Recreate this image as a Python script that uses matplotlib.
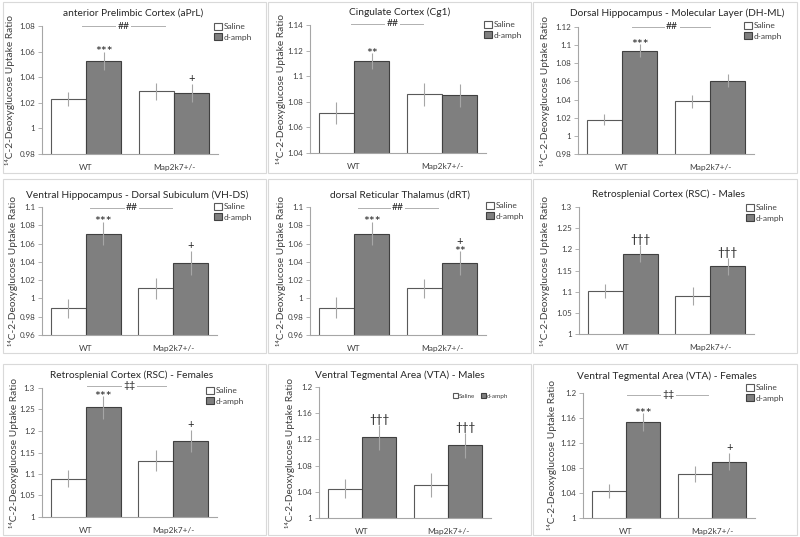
import numpy as np
import matplotlib
matplotlib.use('Agg')
import matplotlib.pyplot as plt
from matplotlib.patches import Rectangle
from matplotlib.ticker import FuncFormatter, MultipleLocator

plt.rcParams['font.family'] = ['Lato', 'DejaVu Sans']

# ---- data ----
titles = ['anterior Prelimbic Cortex (aPrL)', 'Cingulate Cortex (Cg1)',
          'Dorsal Hippocampus - Molecular Layer (DH-ML)',
          'Ventral Hippocampus - Dorsal Subiculum (VH-DS)', 'dorsal Reticular Thalamus (dRT)',
          'Retrosplenial Cortex (RSC) - Males', 'Retrosplenial Cortex (RSC) - Females',
          'Ventral Tegmental Area (VTA) - Males', 'Ventral Tegmental Area (VTA) - Females']
genotypes = ['WT', 'Map2k7+/-']
treatments = ['Saline', 'd-amph']

saline_mean = [[1.023, 1.029], [1.071, 1.086], [1.018, 1.038],
               [0.989, 1.011], [0.990, 1.011], [1.101, 1.089],
               [1.089, 1.131], [1.045, 1.050], [1.043, 1.071]]
saline_err = [[0.0055, 0.0068], [0.0085, 0.009], [0.006, 0.0068],
              [0.010, 0.0115], [0.0115, 0.0105], [0.017, 0.021],
              [0.020, 0.024], [0.015, 0.018], [0.011, 0.013]]
damph_mean = [[1.053, 1.028], [1.112, 1.085], [1.094, 1.061],
              [1.071, 1.039], [1.071, 1.039], [1.190, 1.160],
              [1.255, 1.177], [1.123, 1.111], [1.154, 1.090]]
damph_err = [[0.007, 0.007], [0.006, 0.009], [0.0075, 0.0075],
             [0.013, 0.013], [0.013, 0.013], [0.021, 0.020],
             [0.026, 0.026], [0.019, 0.019], [0.014, 0.014]]

y_min = [0.98, 1.04, 0.98, 0.96, 0.96, 1.0, 1.0, 1.0, 1.0]
y_max = [1.08, 1.14, 1.12, 1.10, 1.10, 1.3, 1.3, 1.2, 1.2]
y_step = [0.02, 0.02, 0.02, 0.02, 0.02, 0.05, 0.05, 0.04, 0.04]

wt_marks = ['***', '**', '***', '***', '***', '\u2020\u2020\u2020', '***', '\u2020\u2020\u2020', '***']
map_marks = ['+', '', '', '+', '+\n**', '\u2020\u2020\u2020', '+', '\u2020\u2020\u2020', '+']
group_marks = ['##', '##', '##', '##', '##', '', '\u2021\u2021', '', '\u2021\u2021']

# ---- layout (pixels, top-left origin) ----
W, H = 800, 537
panel_box = [(3, 2, 266, 173), (268, 2, 531, 173), (533, 2, 797, 173),
             (3, 179, 266, 353), (268, 179, 531, 353), (533, 179, 797, 353),
             (3, 364, 266, 535), (268, 364, 531, 535), (533, 364, 797, 535)]
ax_box = [(42, 26, 218, 154), (310, 25, 486, 153), (578, 27, 754, 154),
          (42, 207, 217, 335), (310, 207, 486, 335), (579, 207, 754, 334),
          (42, 388, 217, 517), (319, 387, 491, 518), (583, 393, 755, 518)]
title_pos = [(133, 13), (400, 12), (677, 13), (137, 195), (400, 195), (668, 194),
             (132, 375), (400, 375), (667, 376)]
ylabel_x = [5, 276, 540, 8, 276, 540, 9, 285, 547]
legend_pos = [(214, 23), (484, 21), (744, 22), (214, 203), (486, 202), (746, 204),
              (206, 387), (453, 393), (746, 384)]
bracket = [(-0.05, 0.90, 0.43, 1.080), (-0.03, 0.78, 0.44, 1.141), (0.11, 1.00, 0.57, 1.120),
           (0.045, 0.98, 0.53, 1.099), (0.045, 0.95, 0.50, 1.099), None,
           (0.01, 0.92, 0.50, 1.305), None, (0.01, 0.95, 0.49, 1.197)]

bar_w = 0.40
edge_c = '#595959'
grey = '#7f7f7f'
err_c = '#a6a6a6'
axis_c = '#a6a6a6'
txt_c = '#404040'
mark_c = '#262626'

fig = plt.figure(figsize=(8, 5.37), dpi=100)


def fig_rect(box):
    x0, y0, x1, y1 = box
    return [x0 / W, 1 - y1 / H, (x1 - x0) / W, (y1 - y0) / H]


def put_marks(ax, xpos, top, s):
    # stack lines bottom-up just above the error bar
    base = 0.0
    for k, line in enumerate(reversed(s.split('\n'))):
        if '*' in line:
            off, size = -3.4, 10
        elif '+' in line:
            off, size = 1.2, 8
        else:
            off, size = 1.5, 8.5
        if k > 0:
            off = base + 7.5
        ax.annotate(line, xy=(xpos, top), xytext=(0, off), textcoords='offset points',
                    ha='center', va='baseline', fontsize=size, color=mark_c)
        base = off


fmt = FuncFormatter(lambda v, p: '{:g}'.format(round(v, 2)))

for i in range(9):
    r = fig_rect(panel_box[i])
    fig.patches.append(Rectangle((r[0], r[1]), r[2], r[3], transform=fig.transFigure,
                                 facecolor='white', edgecolor='#d9d9d9', lw=0.8, zorder=-10))
    ax = fig.add_axes(fig_rect(ax_box[i]))
    x = np.arange(len(genotypes))
    ax.bar(x - bar_w / 2, saline_mean[i], bar_w, color='white', edgecolor=edge_c, lw=0.8,
           label=treatments[0], zorder=2)
    ax.bar(x + bar_w / 2, damph_mean[i], bar_w, color=grey, edgecolor='#404040', lw=0.8,
           label=treatments[1], zorder=2)
    ax.errorbar(x - bar_w / 2, saline_mean[i], yerr=saline_err[i], fmt='none',
                ecolor=err_c, elinewidth=0.8, capsize=0, zorder=3)
    ax.errorbar(x + bar_w / 2, damph_mean[i], yerr=damph_err[i], fmt='none',
                ecolor=err_c, elinewidth=0.8, capsize=0, zorder=3)

    ax.set_xlim(-0.5, 1.5)
    ax.set_ylim(y_min[i], y_max[i])
    ax.yaxis.set_major_locator(MultipleLocator(y_step[i]))
    ax.yaxis.set_major_formatter(fmt)
    ax.set_xticks(x)
    ax.set_xticklabels(genotypes)
    ax.tick_params(axis='x', length=0, labelsize=6, colors=txt_c, pad=7)
    ax.tick_params(axis='y', length=3, width=0.6, color=axis_c, labelsize=5.8,
                   labelcolor=txt_c, pad=2)
    for s in ['top', 'right']:
        ax.spines[s].set_visible(False)
    for s in ['left', 'bottom']:
        ax.spines[s].set_color(axis_c)
        ax.spines[s].set_linewidth(0.8)
    ax.set_facecolor('none')

    # significance marks
    if wt_marks[i]:
        put_marks(ax, x[0] + bar_w / 2, damph_mean[i][0] + damph_err[i][0], wt_marks[i])
    if map_marks[i]:
        put_marks(ax, x[1] + bar_w / 2, damph_mean[i][1] + damph_err[i][1], map_marks[i])
    if bracket[i] is not None:
        bx0, bx1, bxt, by = bracket[i]
        ax.plot([bx0, bx1], [by, by], color='#b0b0b0', lw=0.7, clip_on=False, zorder=4)
        ax.text(bxt, by, group_marks[i], ha='center', va='center', fontsize=7.5,
                color=mark_c, clip_on=False, zorder=5,
                bbox=dict(facecolor='white', edgecolor='none', pad=1.0))

    lx, ly = legend_pos[i]
    if i == 7:
        ax.legend(loc='upper left', bbox_to_anchor=(lx / W, 1 - ly / H),
                  bbox_transform=fig.transFigure, frameon=False, fontsize=4.5, ncol=2,
                  handlelength=0.8, handleheight=0.8, handletextpad=0.2, columnspacing=0.8,
                  borderpad=0, borderaxespad=0, labelcolor=txt_c)
    else:
        ax.legend(loc='upper left', bbox_to_anchor=(lx / W, 1 - ly / H),
                  bbox_transform=fig.transFigure, frameon=False, fontsize=6,
                  handlelength=0.9, handleheight=0.9, handletextpad=0.3, labelspacing=0.35,
                  borderpad=0, borderaxespad=0, labelcolor=txt_c)

    tx, ty = title_pos[i]
    fig.text(tx / W, 1 - ty / H, titles[i], ha='center', va='center', fontsize=7.3,
             color=mark_c)
    cy = (ax_box[i][1] + ax_box[i][3]) / 2
    fig.text(ylabel_x[i] / W, 1 - cy / H, '\u00b9\u2074C-2-Deoxyglucose Uptake Ratio',
             rotation=90, ha='left', va='center', fontsize=7.3, color=txt_c)

fig.savefig('out.png', dpi=100, facecolor='white')
